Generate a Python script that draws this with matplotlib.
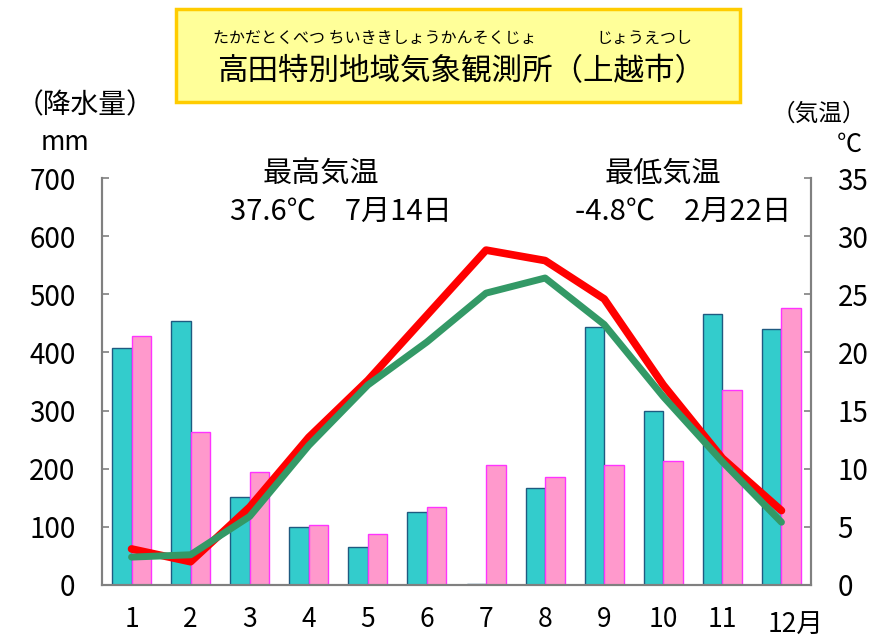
import numpy as np
import matplotlib
matplotlib.use('Agg')
import matplotlib.pyplot as plt
from matplotlib.patches import Rectangle
import matplotlib.transforms as mtransforms

plt.rcParams['font.family'] = ['Noto Sans CJK JP', 'DejaVu Sans']

# data
months = np.arange(1, 13)
month_labels = ['1', '2', '3', '4', '5', '6', '7', '8', '9', '10', '11', '']
rain_this_year = [408, 454, 151, 99, 65, 125, 1, 166, 444, 300, 466, 440]
rain_normal = [429, 263, 194, 103, 87, 135, 206, 185, 206, 213, 335, 476]
temp_this_year = [3.1, 2.0, 6.7, 12.7, 17.6, 23.2, 28.8, 27.9, 24.6, 17.2, 10.9, 6.4]
temp_normal = [2.4, 2.6, 5.9, 12.0, 17.2, 20.9, 25.1, 26.4, 22.4, 16.2, 10.6, 5.4]
rain_ticks = [0, 100, 200, 300, 400, 500, 600, 700]
temp_ticks = [0, 5, 10, 15, 20, 25, 30, 35]

W, H = 873, 640
fig = plt.figure(figsize=(W / 100, H / 100), dpi=100)
ax = fig.add_axes([102 / W, 1 - 585 / H, (811 - 102) / W, (585 - 178) / H])

bw = 0.33
ax.bar(months - bw / 2, rain_this_year, width=bw, color='#33cccc',
       edgecolor='#1f5a80', linewidth=1.0, zorder=2)
ax.bar(months + bw / 2, rain_normal, width=bw, color='#ff99cc',
       edgecolor='#ff33ff', linewidth=1.0, zorder=2)

ax.set_xlim(0.5, 12.5)
ax.set_ylim(0, 700)
ax.set_yticks(rain_ticks)
ax.set_xticks(months)
ax.set_xticklabels(month_labels)
ax.tick_params(axis='y', direction='in', length=5, width=1.2, color='#808080',
               labelsize=20, pad=19)
ax.tick_params(axis='x', length=0, labelsize=19, pad=15)
ax.spines['top'].set_visible(False)
for s in ['left', 'right', 'bottom']:
    ax.spines[s].set_color('#808080')
    ax.spines[s].set_linewidth(1.5)

trans = mtransforms.blended_transform_factory(ax.transData, ax.transAxes)
ax.text(12.23, -0.098, '12月', transform=trans, ha='center', va='center', fontsize=19)

ax2 = ax.twinx()
ax2.set_ylim(0, 35)
ax2.set_yticks(temp_ticks)
ax2.tick_params(axis='y', direction='in', length=5, width=1.2, color='#808080',
                labelsize=20, pad=19)
ax2.spines['top'].set_visible(False)
for s in ['left', 'right', 'bottom']:
    ax2.spines[s].set_color('#808080')
    ax2.spines[s].set_linewidth(1.5)
ax2.plot(months, temp_this_year, color='#ff0000', lw=5.5, solid_capstyle='round',
         solid_joinstyle='round', zorder=3)
ax2.plot(months, temp_normal, color='#339966', lw=5, solid_capstyle='round',
         solid_joinstyle='round', zorder=4)

# title box
fig.patches.append(Rectangle((176 / W, 1 - 102 / H), (740 - 176) / W, 93 / H,
                             transform=fig.transFigure, facecolor='#ffff99',
                             edgecolor='#ffcc00', linewidth=2.5, zorder=0))
fig.text(213 / W, 1 - 38 / H, 'たかだとくべつ ちいききしょうかんそくじょ', ha='left',
         va='center', fontsize=11.5)
fig.text(596 / W, 1 - 38 / H, 'じょうえつし', ha='left', va='center', fontsize=11.5)
fig.text(461 / W, 1 - 72 / H, '高田特別地域気象観測所（上越市）', ha='center',
         va='center', fontsize=22)

# axis captions
fig.text(85 / W, 1 - 105 / H, '（降水量）', ha='center', va='center', fontsize=20)
fig.text(65 / W, 1 - 143 / H, 'mm', ha='center', va='center', fontsize=19)
fig.text(819 / W, 1 - 114 / H, '（気温）', ha='center', va='center', fontsize=17)
fig.text(849 / W, 1 - 145 / H, '℃', ha='center', va='center', fontsize=18)

# extremes
fig.text(321 / W, 1 - 174 / H, '最高気温', ha='center', va='center', fontsize=21)
fig.text(341 / W, 1 - 212 / H, '37.6℃　7月14日', ha='center', va='center', fontsize=21)
fig.text(663 / W, 1 - 174 / H, '最低気温', ha='center', va='center', fontsize=21)
fig.text(683 / W, 1 - 212 / H, '-4.8℃　2月22日', ha='center', va='center', fontsize=21)

fig.savefig('out.png', dpi=100)
